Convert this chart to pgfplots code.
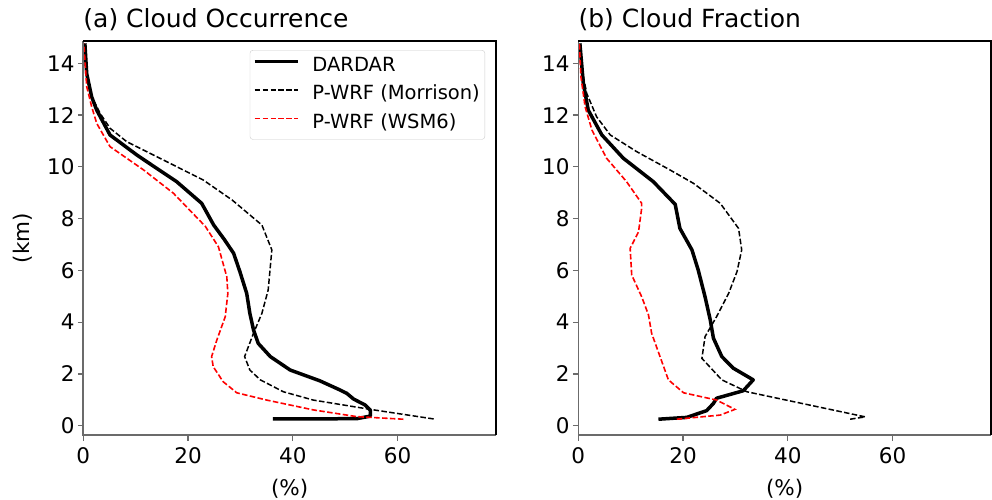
\documentclass[border=0pt]{standalone}
\usepackage{fontspec}
\setmainfont{DejaVu Sans}
\usepackage{pgfplots}
\pgfplotsset{compat=1.18}
\definecolor{spinegray}{gray}{0.42}
\definecolor{mplred}{rgb}{1,0,0}

\pgfplotsset{
  panel/.style={
    scale only axis, width=412.7bp, height=394bp,
    xmin=0, xmax=78.8, ymin=-0.36, ymax=14.86,
    xtick={0,20,40,60}, ytick={0,2,4,6,8,10,12,14},
    axis line style={draw=none},
    clip=false,
    tick align=outside, major tick length=5.5bp,
    tick pos=left,
    tick style={spinegray, line width=1.2bp},
    ticklabel style={font=\fontsize{21.5bp}{25bp}\selectfont},
    /pgf/number format/assume math mode=true,
    xticklabel style={anchor=north, inner sep=0pt, yshift=-7bp},
    yticklabel style={anchor=east, inner sep=0pt, xshift=-3bp},
    xlabel={(\%)},
    xlabel style={at={(axis description cs:0.5,-0.1523)}, anchor=base, inner sep=0pt, font=\fontsize{21.5bp}{25bp}\selectfont},
    title style={at={(axis description cs:0,1.0195)}, anchor=base west, inner sep=0pt, font=\fontsize{25bp}{30bp}\selectfont},
    dardar/.style={draw=black, line width=3.5bp, line join=round},
    morr/.style={draw=black, line width=1.5bp, dash pattern=on 5.5bp off 2.4bp},
    wsm/.style={draw=mplred, line width=1.6bp, dash pattern=on 5.5bp off 2.4bp},
  },
}

\begin{document}
\begin{tikzpicture}
\path[use as bounding box] (0,0) rectangle (992bp,500bp);

\begin{axis}[panel, at={(83.3bp,65bp)}, anchor=south west,
  title={(a) Cloud Occurrence},
  ylabel={(km)},
  ylabel style={at={(axis description cs:-0.1292,0.5)}, anchor=base, inner sep=0pt, font=\fontsize{21.5bp}{25bp}\selectfont},
  legend style={at={(axis description cs:0.9734,0.977)}, anchor=north east,
    draw=black!20, rounded corners=3bp, inner xsep=3bp, inner ysep=4bp,
    font=\fontsize{19.5bp}{23bp}\selectfont,
    nodes={inner sep=2bp, text height=15bp, text depth=5bp},
    row sep=4.6bp, column sep=11bp},
  legend cell align=left,
  legend image code/.code={\draw[#1] (0bp,5bp) -- (43bp,5bp);},
]
\addplot[dardar] coordinates {
(36.2,0.26) (52.2,0.27) (54.8,0.37) (54.8,0.6) (53.8,0.80) (51.6,1.03) (50.3,1.25) (49.0,1.38) (45.2,1.73) (39.5,2.15) (35.7,2.67) (33.4,3.18) (32.5,3.70) (31.8,4.34) (31.2,5.11) (29.9,5.95) (28.7,6.66) (26.9,7.2) (24.9,7.75) (22.6,8.59) (17.8,9.43) (12.1,10.2) (10.2,10.46) (5.1,11.23) (2.56,12.19) (1.6,12.7) (0.65,13.6) (0.3,14.77)
};
\addlegendentry{DARDAR}
\addplot[morr] coordinates {
(66.9,0.26) (54.8,0.63) (43.9,0.99) (38.2,1.31) (33.8,1.77) (31.8,2.15) (30.8,2.67) (32.5,3.57) (34.1,4.34) (35.3,5.24) (36.0,6.79) (34.1,7.75) (28.4,8.72) (22.9,9.49) (16.6,10.13) (8.3,10.97) (5.1,11.49) (3.2,12.07) (1.28,12.84) (0.65,13.6) (0.2,14.77)
};
\addlegendentry{P-WRF (Morrison)}
\addplot[wsm] coordinates {
(61.1,0.25) (52.2,0.35) (43.9,0.61) (35.0,0.99) (29.3,1.27) (26.7,1.70) (24.8,2.28) (24.5,2.67) (25.5,3.31) (27.1,4.21) (27.6,5.11) (27.4,5.75) (25.8,6.91) (23.3,7.7) (17.2,8.98) (11.5,9.88) (5.1,10.78) (2.56,11.68) (1.6,12.32) (0.65,13.1) (0.1,14.77)
};
\addlegendentry{P-WRF (WSM6)}
\draw[spinegray, line width=1.6bp] (rel axis cs:0,1) -- (rel axis cs:0,0) -- (rel axis cs:1,0);
\draw[black, line width=1.6bp] (rel axis cs:0,1) -- (rel axis cs:1,1) -- (rel axis cs:1,0);
\end{axis}

\begin{axis}[panel, at={(578.3bp,65bp)}, anchor=south west,
  title={(b) Cloud Fraction},
]
\addplot[dardar] coordinates {
(15.3,0.25) (20.7,0.32) (24.5,0.58) (25.8,0.86) (26.4,1.06) (31.5,1.35) (33.4,1.77) (29.6,2.22) (27.4,2.67) (25.8,3.38) (25.2,4.08) (24.2,4.98) (22.9,6.01) (21.7,6.79) (19.4,7.62) (18.5,8.55) (14.3,9.43) (8.6,10.33) (4.5,11.23) (1.9,12.19) (0.96,13.22) (0.3,14.77)
};
\addplot[morr] coordinates {
(51.9,0.25) (54.8,0.34) (32.2,1.31) (27.4,1.77) (23.6,2.60) (24.2,3.44) (26.4,4.21) (28.7,5.11) (30.3,5.95) (31.2,6.79) (30.6,7.62) (27.1,8.59) (22.0,9.36) (17.5,9.88) (11.2,10.58) (6.1,11.23) (3.5,11.93) (1.6,12.84) (0.6,13.87) (0.2,14.77)
};
\addplot[wsm] coordinates {
(18.8,0.25) (27.1,0.41) (29.9,0.63) (26.4,0.99) (20.1,1.27) (17.2,1.77) (15.6,2.67) (14.0,3.57) (13.4,4.28) (12.1,4.98) (10.2,5.82) (9.9,6.85) (11.5,7.49) (12.1,8.40) (12.1,8.59) (9.2,9.43) (5.4,10.33) (2.6,11.42) (1.3,12.32) (0.5,13.48) (0.2,14.77)
};
\draw[spinegray, line width=1.6bp] (rel axis cs:0,1) -- (rel axis cs:0,0) -- (rel axis cs:1,0);
\draw[black, line width=1.6bp] (rel axis cs:0,1) -- (rel axis cs:1,1) -- (rel axis cs:1,0);
\end{axis}
\end{tikzpicture}
\end{document}
